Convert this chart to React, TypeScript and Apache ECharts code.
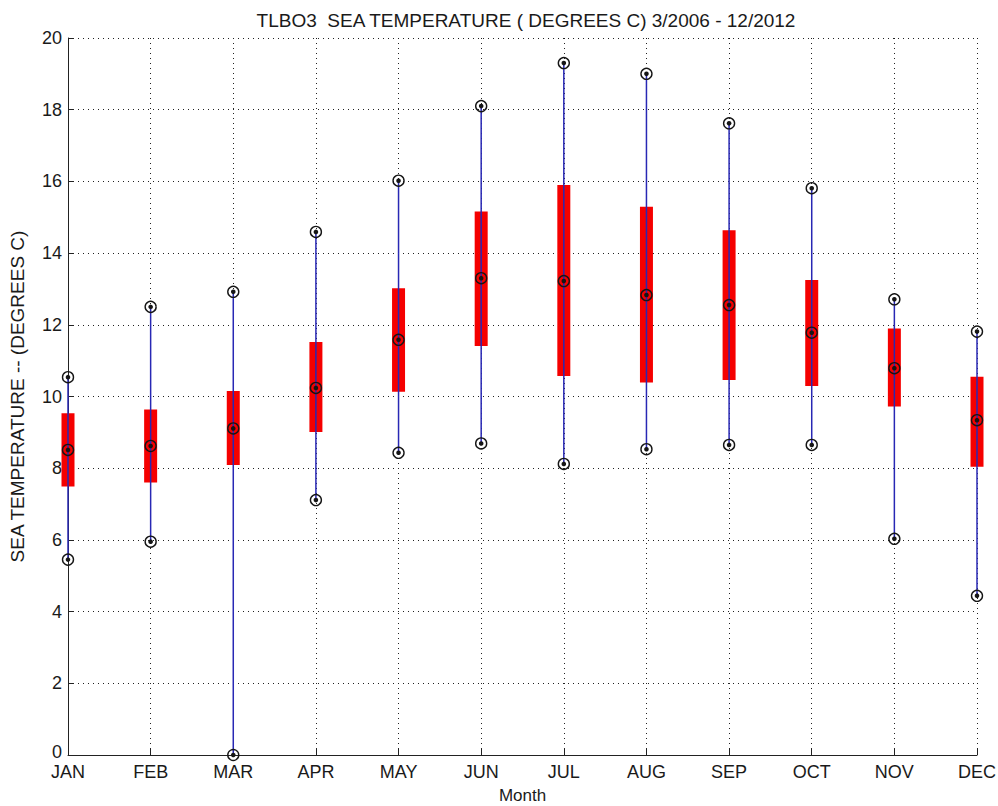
import React, { useEffect, useRef } from "react";
import * as echarts from "echarts";

const months = ["JAN", "FEB", "MAR", "APR", "MAY", "JUN", "JUL", "AUG", "SEP", "OCT", "NOV", "DEC"];
const maxVals = [10.54, 12.5, 12.92, 14.59, 16.02, 18.1, 19.3, 19.0, 17.62, 15.81, 12.71, 11.81];
const q3Vals = [9.53, 9.64, 10.15, 11.52, 13.02, 15.16, 15.9, 15.29, 14.64, 13.25, 11.9, 10.55];
const medianVals = [8.51, 8.62, 9.11, 10.24, 11.58, 13.3, 13.22, 12.83, 12.55, 11.78, 10.79, 9.34];
const q1Vals = [7.49, 7.6, 8.09, 9.01, 10.13, 11.41, 10.57, 10.39, 10.46, 10.29, 9.72, 8.04];
const minVals = [5.45, 5.95, 0, 7.11, 8.43, 8.69, 8.12, 8.53, 8.65, 8.65, 6.03, 4.44];
const yTicks = { min: 0, max: 20, interval: 2 };

const titleText = "TLBO3  SEA TEMPERATURE ( DEGREES C) 3/2006 - 12/2012";
const yName = "SEA TEMPERATURE -- (DEGREES C)";
const xName = "Month";

const FONT = "'Liberation Sans', Arial, Helvetica, sans-serif";

export default function App() {
  const ref = useRef<HTMLDivElement>(null);
  useEffect(() => {
    if (!ref.current) return;
    const chart = echarts.init(ref.current, undefined, { renderer: "svg" });
    const data = months.map((_, i) => [i, minVals[i], q1Vals[i], medianVals[i], q3Vals[i], maxVals[i]]);

    const marker = (p: number[]) => [
      {
        type: "circle",
        shape: { cx: p[0], cy: p[1], r: 5.5 },
        style: { fill: "none", stroke: "#151515", lineWidth: 1.4 },
        z2: 20,
      },
      {
        type: "circle",
        shape: { cx: p[0], cy: p[1], r: 2.3 },
        style: { fill: "#151515" },
        z2: 21,
      },
    ];

    const option: any = {
      animation: false,
      backgroundColor: "#ffffff",
      title: {
        text: titleText,
        left: 521,
        top: 6,
        textAlign: "center",
        textStyle: { fontFamily: FONT, fontSize: 19, fontWeight: "normal", color: "#1a1a1a" },
      },
      grid: { left: 68, right: 21, top: 38, bottom: 51, containLabel: false, outerBoundsMode: "none" },
      xAxis: {
        type: "category",
        data: months,
        boundaryGap: false,
        name: xName,
        nameLocation: "middle",
        nameGap: 32,
        nameTextStyle: { fontFamily: FONT, fontSize: 17, color: "#1a1a1a" },
        axisLine: { lineStyle: { color: "#222", width: 1 } },
        axisTick: { inside: true, length: 6, lineStyle: { color: "#222" } },
        axisLabel: { fontFamily: FONT, fontSize: 18, color: "#1a1a1a", margin: 8, interval: 0 },
        splitLine: { show: true, lineStyle: { type: [1, 4], color: "#222", width: 1 } },
      },
      yAxis: {
        type: "value",
        min: yTicks.min,
        max: yTicks.max,
        interval: yTicks.interval,
        name: yName,
        nameLocation: "middle",
        nameGap: 41,
        nameTextStyle: { fontFamily: FONT, fontSize: 19, color: "#1a1a1a" },
        axisLine: { show: true, lineStyle: { color: "#222", width: 1 } },
        axisTick: { show: true, inside: true, length: 6, lineStyle: { color: "#222" } },
        axisLabel: {
          fontFamily: FONT,
          fontSize: 18,
          color: "#1a1a1a",
          margin: 6,
          formatter: (v: number) => (v === 0 ? "{z|0}" : String(v)),
          rich: { z: { fontFamily: FONT, fontSize: 18, color: "#1a1a1a", padding: [0, 0, 6, 0] } },
        },
        splitLine: { show: true, lineStyle: { type: [1, 4], color: "#222", width: 1 } },
      },
      series: [
        {
          type: "custom",
          data,
          encode: { x: 0, y: [1, 2, 3, 4, 5] },
          clip: false,
          renderItem: (params: any, api: any) => {
            const i = api.value(0);
            const pMin = api.coord([i, api.value(1)]);
            const pQ1 = api.coord([i, api.value(2)]);
            const pMed = api.coord([i, api.value(3)]);
            const pQ3 = api.coord([i, api.value(4)]);
            const pMax = api.coord([i, api.value(5)]);
            const w = 13;
            return {
              type: "group",
              children: [
                {
                  type: "rect",
                  shape: { x: pQ3[0] - w / 2, y: pQ3[1], width: w, height: pQ1[1] - pQ3[1] },
                  style: { fill: "#f50000" },
                  z2: 5,
                },
                {
                  type: "line",
                  shape: { x1: pMin[0], y1: pMin[1], x2: pMax[0], y2: pMax[1] },
                  style: { stroke: "#2828b4", lineWidth: 1.5 },
                  z2: 10,
                },
                ...marker(pMin),
                ...marker(pMax),
                ...marker(pMed),
              ],
            };
          },
        },
      ],
    };
    chart.setOption(option);
    return () => chart.dispose();
  }, []);
  return (
    <div
      ref={ref}
      style={{ position: "fixed", left: 0, top: 0, width: 998, height: 806, background: "#fff" }}
    />
  );
}
